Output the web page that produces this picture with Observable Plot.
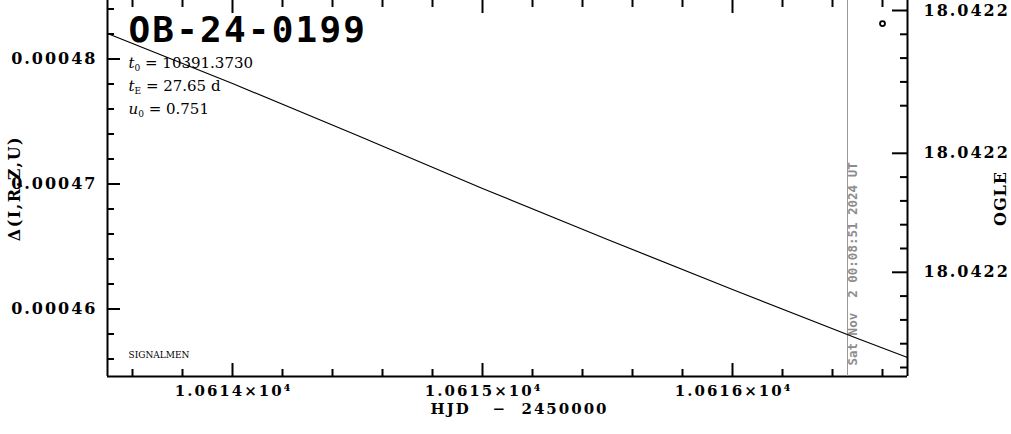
<!DOCTYPE html>
<html>
<head>
<meta charset="utf-8">
<script src="https://cdn.jsdelivr.net/npm/d3@7"></script>
<script src="https://cdn.jsdelivr.net/npm/@observablehq/plot@0.6"></script>
<style>
  html, body { margin: 0; padding: 0; background: #fff; }
  svg text { white-space: pre; }
</style>
</head>
<body>
<div id="chart"></div>
<script>
// ---- data ----
const modelHJD   = [10613.5, 10614.0, 10614.5, 10615.0, 10615.5, 10616.0, 10616.5, 10616.7];
const modelDelta = [0.00048204, 0.00047804, 0.00047388, 0.00046964, 0.00046556, 0.00046156, 0.00045764, 0.00045612];
const ogleHJD = [10616.6];
const ogleMag = [18.04220055];
const nowHJD = [10616.46];
const nowLabel = "Sat Nov  2 00:08:51 2024 UT";
const title = "OB-24-0199";
const params = ["t0 = 10391.3730", "tE = 27.65 d", "u0 = 0.751"];
const credit = "SIGNALMEN";
const xLabel = "HJD   \u2212  2450000";
const yLabel = "\u0394(I,R,Z,U)";
const rLabel = "OGLE";
const xMajor = [10614, 10615, 10616];
const xMinor = [10613.6, 10613.8, 10614.2, 10614.4, 10614.6, 10614.8, 10615.2, 10615.4, 10615.6, 10615.8, 10616.2, 10616.4, 10616.6];
const yMajor = [0.00046, 0.00047, 0.00048];
const yMinor = [0.000456, 0.000458, 0.000462, 0.000464, 0.000466, 0.000468, 0.000472, 0.000474, 0.000476, 0.000478, 0.000482, 0.000484];
const rMajor = [18.0422, 18.042206, 18.042211];
const rMinor = [18.042201, 18.042202, 18.042203, 18.042204, 18.042207, 18.042208, 18.042209, 18.04221, 18.042212, 18.042213, 18.042214, 18.042215];
const xDomain = [10613.5, 10616.7];
const yDomain = [0.0004546, 0.00048468];

// right (OGLE mag) axis expressed in left-axis units
const magToDelta = m => 0.00048388 - (m - 18.0422) * 1.904;

const model = modelHJD.map((x, i) => ({x, y: modelDelta[i]}));
const ogle = ogleHJD.map((x, i) => ({x, y: magToDelta(ogleMag[i])}));

const W = 1011, H = 434, mL = 107, mR = 104, mT = 0, mB = 58;
const fw = W - mL - mR, fh = H - mT - mB;
const lab = {fontFamily: "DejaVu Serif", fontWeight: "bold", fontSize: 16, fill: "black"};
const labX = {...lab, fontSize: 15};
const maj = 13, mnr = 7;

const fmtY = d => d3.format(".5f")(d);
const fmtR = d => d3.format(".4f")(d);
const fmtX = d => d3.format(".4f")(d / 1e4) + "\u00d710\u2074";

const chart = Plot.plot({
  width: W, height: H,
  marginLeft: mL, marginRight: mR, marginTop: mT, marginBottom: mB,
  style: {background: "white", overflow: "visible"},
  x: {domain: xDomain, axis: null},
  y: {domain: yDomain, axis: null},
  marks: [
    // frame (no top line)
    Plot.ruleX(xDomain, {stroke: "black", strokeWidth: 2}),
    Plot.ruleY([yDomain[0]], {stroke: "black", strokeWidth: 2}),
    // inward ticks
    Plot.tickY(yMajor, {y: d => d, insetRight: fw - maj, strokeWidth: 2}),
    Plot.tickY(yMinor, {y: d => d, insetRight: fw - mnr, strokeWidth: 2}),
    Plot.tickY(rMajor, {y: d => magToDelta(d), insetLeft: fw - maj - 2, strokeWidth: 2}),
    Plot.tickY(rMinor, {y: d => magToDelta(d), insetLeft: fw - mnr, strokeWidth: 2}),
    Plot.tickX(xMajor, {x: d => d, insetTop: fh - maj, strokeWidth: 2}),
    Plot.tickX(xMinor, {x: d => d, insetTop: fh - mnr, strokeWidth: 2}),
    Plot.tickX(xMajor, {x: d => d, insetBottom: fh - maj, strokeWidth: 2}),
    Plot.tickX(xMinor, {x: d => d, insetBottom: fh - mnr, strokeWidth: 2}),
    // tick labels
    Plot.text(yMajor, {y: d => d, frameAnchor: "left", text: fmtY, textAnchor: "end", lineAnchor: "middle", dx: -10, ...lab}),
    Plot.text(rMajor, {y: d => magToDelta(d), frameAnchor: "right", text: fmtR, textAnchor: "start", lineAnchor: "middle", dx: 16, ...lab}),
    Plot.text(xMajor, {x: d => d, frameAnchor: "bottom", text: fmtX, textAnchor: "middle", lineAnchor: "middle", dx: 1, dy: 15, ...labX}),
    // axis labels
    Plot.text([xLabel], {frameAnchor: "bottom", text: d => d, textAnchor: "middle", lineAnchor: "middle", dx: 12, dy: 33, ...labX}),
    Plot.text([yLabel], {frameAnchor: "left", text: d => d, rotate: -90, textAnchor: "middle", lineAnchor: "middle", dx: -93, dy: 0, ...lab}),
    Plot.text([rLabel], {frameAnchor: "right", text: d => d, rotate: -90, textAnchor: "middle", lineAnchor: "middle", dx: 93, dy: 10, ...lab}),
    // current time marker
    Plot.ruleX(nowHJD, {stroke: "#999", strokeWidth: 1}),
    Plot.text(nowHJD, {x: d => d, frameAnchor: "bottom", text: () => nowLabel, rotate: -90, textAnchor: "start", lineAnchor: "middle",
      dx: 5, dy: -11, fill: "#8c8c8c", fontFamily: "DejaVu Sans Mono", fontWeight: "bold", fontSize: 12.5}),
    // model curve
    Plot.line(model, {x: "x", y: "y", stroke: "black", strokeWidth: 1.2}),
    // OGLE data
    Plot.dot(ogle, {x: "x", y: "y", r: 2.5, stroke: "black", strokeWidth: 1.8, fill: "none"}),
    // annotations
    Plot.text([title], {frameAnchor: "top-left", text: d => d, textAnchor: "start", lineAnchor: "top",
      dx: 21, dy: 16, fontFamily: "DejaVu Sans Mono", fontWeight: "bold", fontSize: 36, fill: "black"}),
    Plot.text([params.join("\n")], {frameAnchor: "top-left", text: d => d, textAnchor: "start", lineAnchor: "top",
      dx: 21, dy: 51, lineHeight: 1.53, fontFamily: "DejaVu Serif", fontSize: 15, fill: "black"}),
    Plot.text([credit], {frameAnchor: "bottom-left", text: d => d, textAnchor: "start", lineAnchor: "bottom",
      dx: 21, dy: -19, fontFamily: "DejaVu Serif", fontSize: 9, fill: "black"})
  ]
});

// letter spacing for the wide plot fonts
const spacing = new Map();
yMajor.forEach(d => spacing.set(fmtY(d), 2));
rMajor.forEach(d => spacing.set(fmtR(d), 2));
xMajor.forEach(d => spacing.set(fmtX(d), 2));
spacing.set(xLabel, 2);
spacing.set(yLabel, 1.5);
spacing.set(rLabel, 1);
spacing.set(title, 2.2);

d3.select(chart).selectAll("text").each(function () {
  if (this.childElementCount === 0 && spacing.has(this.textContent)) {
    d3.select(this).attr("letter-spacing", spacing.get(this.textContent));
  }
});

// italic symbols with subscripts in the parameter block
d3.select(chart).selectAll("text, tspan").each(function () {
  if (this.childElementCount !== 0 || !params.includes(this.textContent)) return;
  const s = this.textContent;
  const sel = d3.select(this);
  sel.text(null);
  sel.append("tspan").attr("font-style", "italic").text(s[0]);
  sel.append("tspan").attr("font-size", "9px").attr("baseline-shift", "-3").text(s[1]);
  sel.append("tspan").text(s.slice(2));
});

document.getElementById("chart").appendChild(chart);
</script>
</body>
</html>
